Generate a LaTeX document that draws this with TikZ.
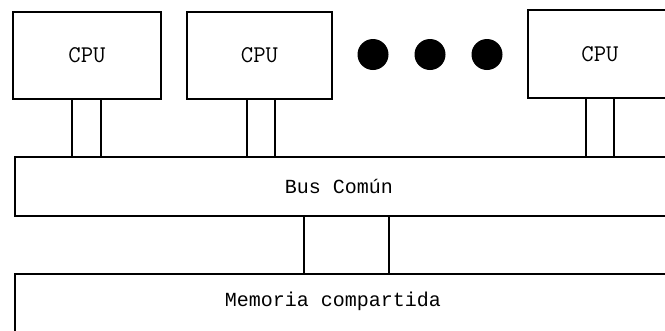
\documentclass[tikz,border=0pt]{standalone}
\usepackage{fontspec}
\newfontfamily\labelmono{Liberation Mono}
\newfontfamily\cpumono{Latin Modern Mono}
\begin{document}
\begin{tikzpicture}[x=1pt,y=-1pt,
  box/.style={draw, line width=2.8pt, rectangle, outer sep=0pt, inner sep=0pt},
  cpubox/.style={box, font=\fontsize{24}{26}\cpumono},
  lbl/.style={font=\fontsize{20}{22}\labelmono, inner sep=0pt},
  dotnode/.style={circle, fill=black, minimum size=31pt, inner sep=0pt},
  wire/.style={line width=2.8pt}]
  % page frame, everything outside is cut away
  \clip (0,0) rectangle (665,330);
  \fill[white] (0,0) rectangle (665,330);

  % processors
  \node[cpubox, minimum width=148pt, minimum height=87pt] (cpu1) at (87,55.5) {CPU};
  \node[cpubox, minimum width=145pt, minimum height=87pt] (cpu2) at (259.5,55.5) {CPU};
  \node[cpubox, minimum width=144pt, minimum height=88pt] (cpu3) at (600,54) {CPU};

  % ellipsis between the processors
  \node[dotnode] (d1) at (373,54.5) {};
  \node[dotnode] (d2) at (430,54.5) {};
  \node[dotnode] (d3) at (487,54.5) {};

  % common bus and shared memory (running off the right edge)
  \node[box, minimum width=700pt, minimum height=59pt] (bus) at (365,186.5) {};
  \node[lbl] (buslbl) at (339,186) {Bus Común};
  \node[box, minimum width=700pt, minimum height=90pt] (mem) at (365,319) {};
  \node[lbl] (memlbl) at (333,301) {Memoria compartida};

  % ports: pairs of vertical wires
  \coordinate (p1a) at (72,0);  \coordinate (p1b) at (101,0);
  \coordinate (p2a) at (247,0); \coordinate (p2b) at (275,0);
  \coordinate (p3a) at (586,0); \coordinate (p3b) at (614,0);
  \coordinate (pma) at (304,0); \coordinate (pmb) at (389,0);

  \draw[wire] (p1a |- cpu1.south) -- (p1a |- bus.north);
  \draw[wire] (p1b |- cpu1.south) -- (p1b |- bus.north);
  \draw[wire] (p2a |- cpu2.south) -- (p2a |- bus.north);
  \draw[wire] (p2b |- cpu2.south) -- (p2b |- bus.north);
  \draw[wire] (p3a |- cpu3.south) -- (p3a |- bus.north);
  \draw[wire] (p3b |- cpu3.south) -- (p3b |- bus.north);
  \draw[wire] (pma |- bus.south) -- (pma |- mem.north);
  \draw[wire] (pmb |- bus.south) -- (pmb |- mem.north);
\end{tikzpicture}
\end{document}
